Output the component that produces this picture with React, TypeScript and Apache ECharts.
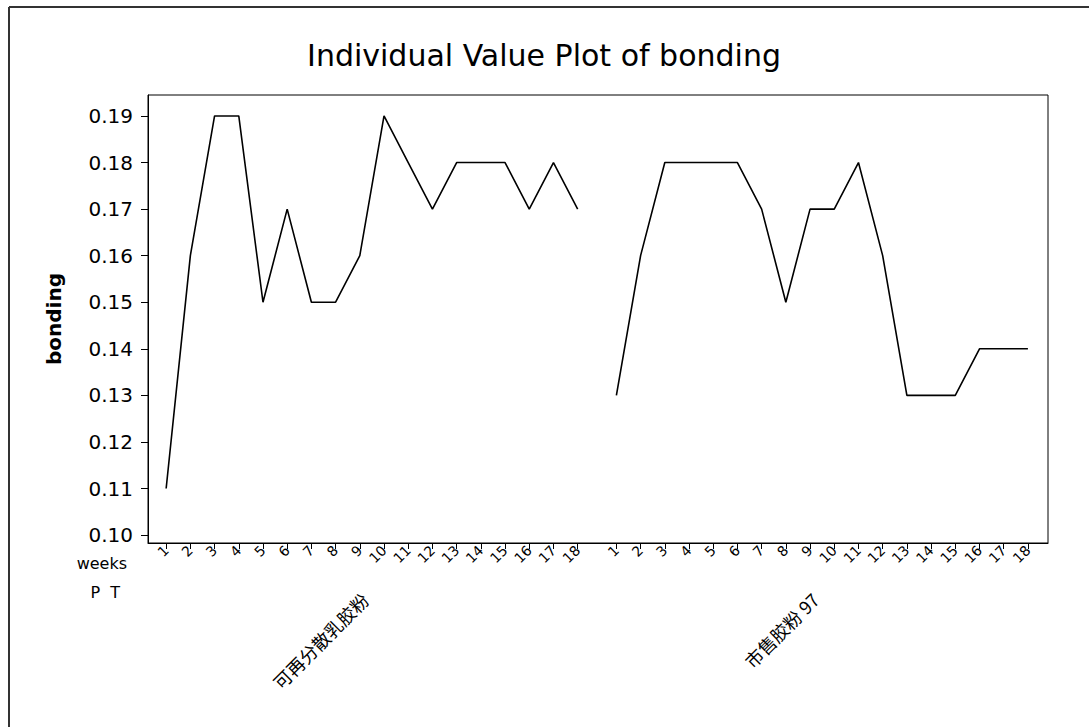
import React, { useEffect, useRef } from "react";
import * as echarts from "echarts";

const weekLabels = ["1","2","3","4","5","6","7","8","9","10","11","12","13","14","15","16","17","18"];
const groupNames = ["可再分散乳胶粉", "市售胶粉 97"];
const group1Values = [0.11,0.16,0.19,0.19,0.15,0.17,0.15,0.15,0.16,0.19,0.18,0.17,0.18,0.18,0.18,0.17,0.18,0.17];
const group2Values = [0.13,0.16,0.18,0.18,0.18,0.18,0.17,0.15,0.17,0.17,0.18,0.16,0.13,0.13,0.13,0.14,0.14,0.14];
const yTicks = [0.10,0.11,0.12,0.13,0.14,0.15,0.16,0.17,0.18,0.19];

const GROUP2_START = 19.6;
const g1X = weekLabels.map((_, i) => 1 + i);
const g2X = weekLabels.map((_, i) => GROUP2_START + i);
const allX = [...g1X, ...g2X];
const labelFor: Record<string, string> = {};
g1X.forEach((x, i) => (labelFor[x.toFixed(2)] = weekLabels[i]));
g2X.forEach((x, i) => (labelFor[x.toFixed(2)] = weekLabels[i]));
const groupCenters = [(g1X[8] + g1X[9]) / 2, (g2X[8] + g2X[9]) / 2];

const X_MIN = 0.25;
const X_MAX = 37.43;
const FONT = "'DejaVu Sans', Tahoma, sans-serif";

export default function App() {
  const ref = useRef<HTMLDivElement>(null);
  useEffect(() => {
    if (!ref.current) return;
    const chart = echarts.init(ref.current, null, { renderer: "svg" });
    chart.setOption({
      animation: false,
      backgroundColor: "#fff",
      title: {
        text: "Individual Value Plot of bonding",
        left: 539,
        textAlign: "center",
        top: 35,
        textStyle: { fontFamily: FONT, fontSize: 30, fontWeight: "normal", color: "#000" },
      },
      grid: {
        left: 148, right: 41, top: 95, bottom: 184,
        show: true, borderColor: "#000", borderWidth: 1, backgroundColor: "transparent",
      },
      xAxis: [
        {
          type: "value", min: X_MIN, max: X_MAX, position: "bottom",
          splitLine: { show: false },
          axisLine: { show: true, lineStyle: { color: "#000", width: 1 } },
          axisTick: { show: true, customValues: allX, length: 6, lineStyle: { color: "#000" } },
          axisLabel: {
            customValues: allX, rotate: 45, margin: 5,
            fontFamily: FONT, fontSize: 14, color: "#000",
            formatter: (v: number) => labelFor[v.toFixed(2)] ?? "",
          },
        },
        {
          type: "value", min: X_MIN, max: X_MAX, position: "bottom", offset: 40,
          splitLine: { show: false },
          axisLine: { show: false },
          axisTick: { show: false },
          axisLabel: {
            customValues: groupCenters, rotate: 45, margin: 6, padding: [0, 10, 0, 0],
            fontFamily: "'Noto Sans CJK SC', sans-serif", fontSize: 18, color: "#000",
            formatter: (v: number) => {
              const idx = groupCenters.findIndex((c) => Math.abs(c - v) < 0.01);
              return idx >= 0 ? groupNames[idx] : "";
            },
          },
        },
      ],
      yAxis: {
        type: "value", min: 0.0983, max: 0.1945,
        name: "bonding", nameLocation: "middle", nameRotate: 90, nameGap: 84,
        nameTextStyle: { fontFamily: FONT, fontSize: 20, fontWeight: "bold", color: "#000" },
        splitLine: { show: false },
        axisLine: { show: true, lineStyle: { color: "#000", width: 1 } },
        axisTick: { show: true, customValues: yTicks, length: 7, lineStyle: { color: "#000" } },
        axisLabel: {
          customValues: yTicks, margin: 15,
          fontFamily: FONT, fontSize: 20, color: "#000",
          formatter: (v: number) => v.toFixed(2),
        },
      },
      series: [
        {
          type: "line", xAxisIndex: 0, symbol: "none",
          lineStyle: { color: "#000", width: 1.6 },
          data: g1X.map((x, i) => [x, group1Values[i]]),
        },
        {
          type: "line", xAxisIndex: 0, symbol: "none",
          lineStyle: { color: "#000", width: 1.6 },
          data: g2X.map((x, i) => [x, group2Values[i]]),
        },
      ],
      graphic: [
        { type: "line", shape: { x1: 9, y1: 7, x2: 9, y2: 727 }, style: { stroke: "#333", lineWidth: 2 } },
        { type: "line", shape: { x1: 9, y1: 7, x2: 1089, y2: 7 }, style: { stroke: "#333", lineWidth: 2 } },
        {
          type: "text", x: 127, y: 563,
          style: { text: "weeks", fontFamily: FONT, fontSize: 16, fill: "#000", align: "right", verticalAlign: "middle" },
        },
        {
          type: "text", x: 120, y: 592,
          style: { text: "P  T", fontFamily: FONT, fontSize: 16, fill: "#000", align: "right", verticalAlign: "middle" },
        },
      ],
    });
    return () => chart.dispose();
  }, []);
  return (
    <div
      ref={ref}
      style={{ position: "fixed", left: 0, top: 0, width: 1089, height: 727, background: "#fff" }}
    />
  );
}
